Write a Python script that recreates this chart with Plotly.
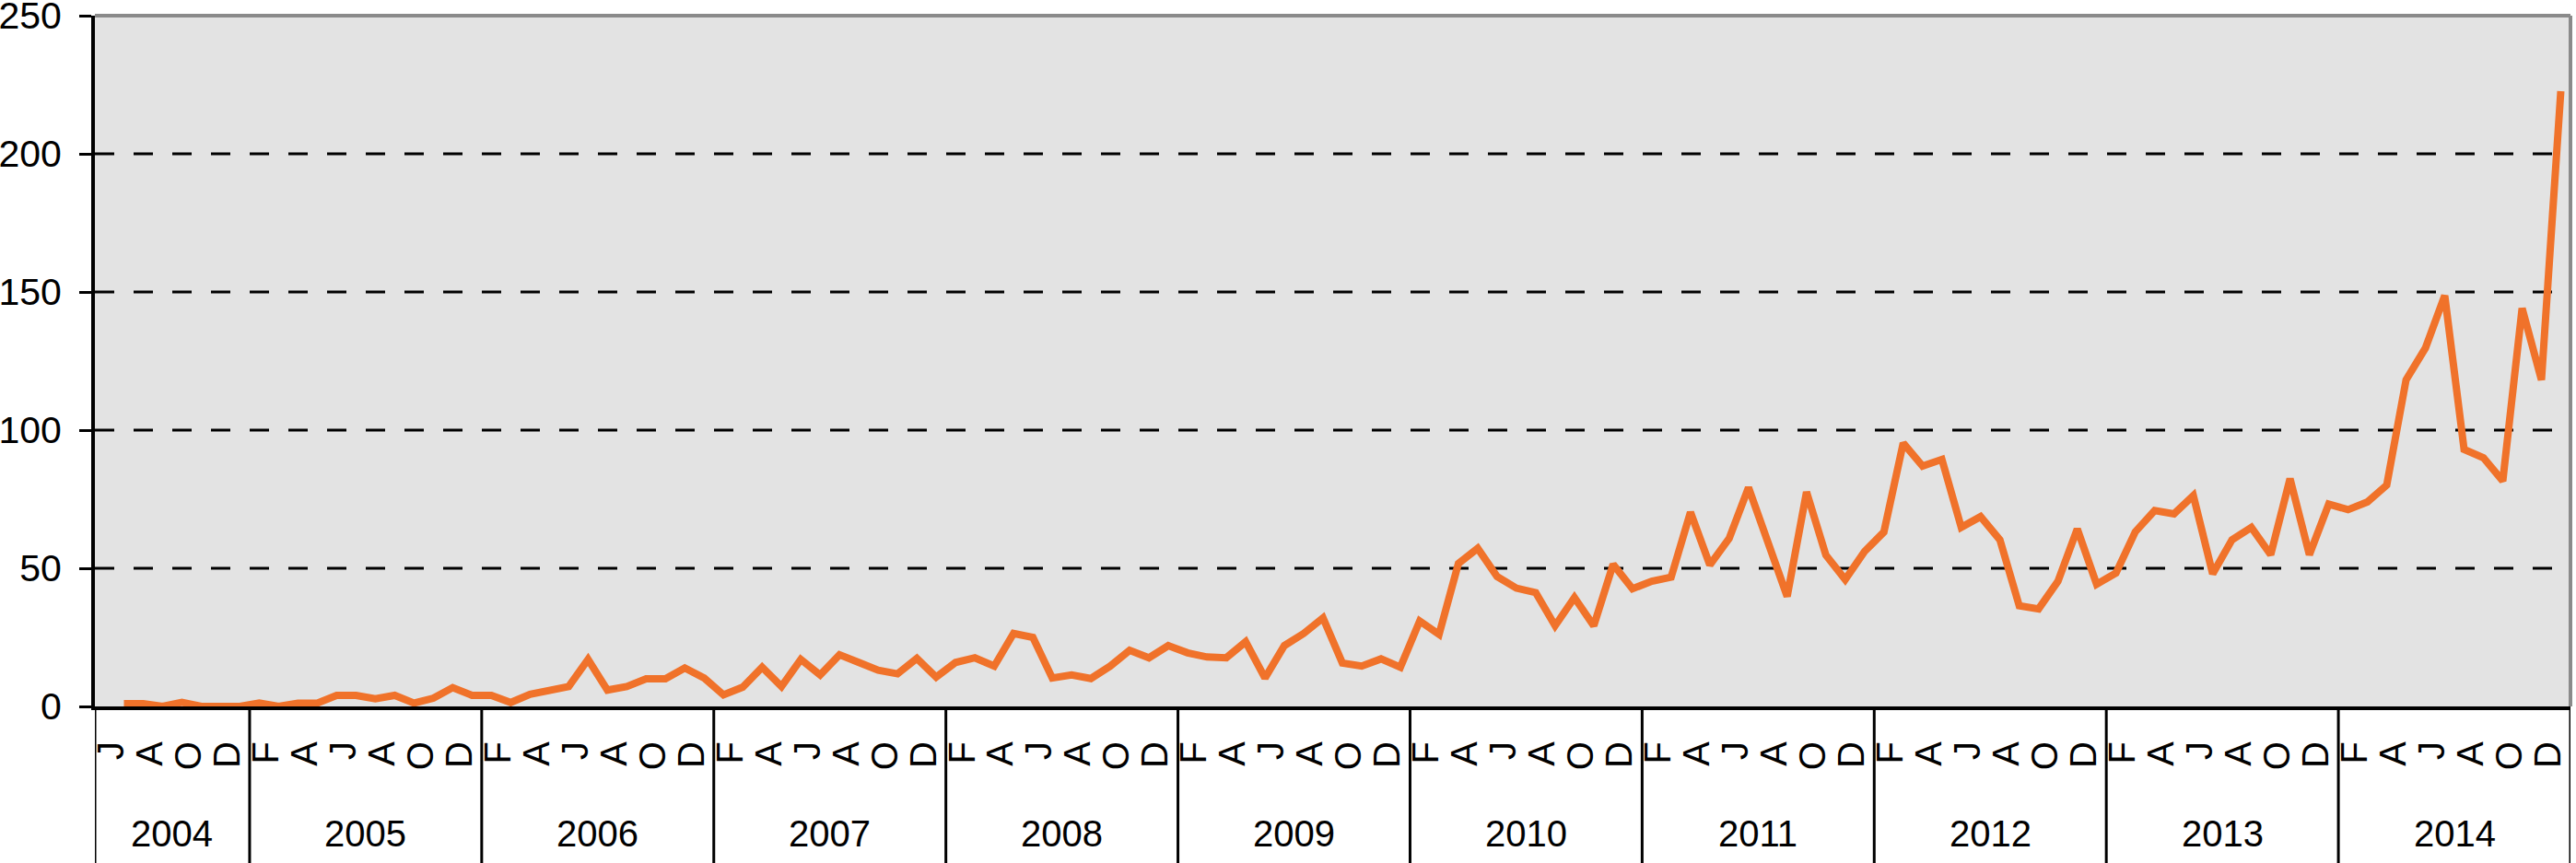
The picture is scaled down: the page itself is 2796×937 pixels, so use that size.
import plotly.graph_objects as go

# ---------------- data ----------------
years = [2004, 2005, 2006, 2007, 2008, 2009, 2010, 2011, 2012, 2013, 2014]
first_month_2004 = 5  # series starts in May 2004 (May is blank)
month_letters = ["J", "F", "M", "A", "M", "J", "J", "A", "S", "O", "N", "D"]
labelled_months = [2, 4, 6, 8, 10, 12]  # every second month gets a letter

values_2004 = [None, 1, 1, 0, 1.5, 0, 0, 0]
values_2005 = [1.2, 0, 1.2, 1.2, 4, 4, 2.8, 4, 1.2, 3, 6.8, 4]
values_2006 = [4, 1.4, 4.4, 5.9, 7.2, 17, 5.9, 7.2, 10, 10, 13.9, 10.3]
values_2007 = [4.2, 7, 14.2, 7.2, 17, 11.4, 18.7, 15.9, 13.1, 11.8, 17.4, 10.6]
values_2008 = [15.9, 17.6, 14.6, 26.4, 25, 10.3, 11.4, 10.1, 14.6, 20.3, 17.6, 22]
values_2009 = [19.4, 17.9, 17.6, 23.4, 10.3, 22, 26.4, 32, 15.7, 14.6, 17.2, 14.2]
values_2010 = [30.9, 26.1, 51.7, 57.2, 47, 42.8, 41.2, 29.2, 39.4, 29.2, 51.4, 42.6]
values_2011 = [45.3, 46.8, 70.3, 51.2, 60.8, 79.2, 59.2, 39.8, 77.6, 54.8, 45.9, 56.1]
values_2012 = [63.1, 95.3, 87, 89.4, 64.8, 68.7, 60.3, 36.4, 35.3, 45.3, 64.2, 44.2]
values_2013 = [48.3, 63.2, 70.9, 69.7, 76.3, 48, 60.3, 64.8, 54.9, 82.4, 54.9, 73.2]
values_2014 = [71.2, 74, 80.1, 118.2, 129.7, 148.7, 93, 90, 81.6, 144.1, 118.2, 222.7]

y_ticks = [0, 50, 100, 150, 200, 250]

# ---------------- build series ----------------
yearly_values = [values_2004, values_2005, values_2006, values_2007, values_2008,
                 values_2009, values_2010, values_2011, values_2012, values_2013,
                 values_2014]

month_numbers = []
year_of_point = []
values = []
for yr, vals in zip(years, yearly_values):
    start = first_month_2004 if yr == 2004 else 1
    for i, v in enumerate(vals):
        month_numbers.append(start + i)
        year_of_point.append(yr)
        values.append(v)

x = list(range(len(values)))

tickvals = []
ticktext = []
for k, m in enumerate(month_numbers):
    if m in labelled_months:
        tickvals.append(k - 0.65)
        ticktext.append(month_letters[m - 1])

# year segments
year_edges = []
year_centers = []
for yr in years:
    ks = [k for k, y in enumerate(year_of_point) if y == yr]
    lo, hi = ks[0] - 0.5, ks[-1] + 0.5
    year_edges.append(lo)
    year_centers.append((lo + hi) / 2)
year_edges.append(len(values) - 0.5)

ORANGE = "#F0722A"
FONT = "Liberation Sans, Arial, Helvetica, sans-serif"
FS = 40

fig = go.Figure()
fig.add_trace(go.Scatter(
    x=x, y=values, mode="lines",
    line=dict(color=ORANGE, width=8),
    connectgaps=False, hoverinfo="skip", showlegend=False,
))

shapes = []
# dashed horizontal gridlines
for v in y_ticks:
    if 0 < v < 250:
        shapes.append(dict(type="line", xref="paper", yref="y", x0=0, x1=1, y0=v, y1=v,
                           line=dict(color="black", width=3, dash="21px,21px"),
                           layer="below"))
# year divider lines below the axis
for e in year_edges:
    shapes.append(dict(type="line", xref="x", yref="paper", x0=e, x1=e,
                       y0=0, y1=-0.3, line=dict(color="black", width=3),
                       layer="above"))
# gray top and right borders of the plot area
shapes.append(dict(type="line", xref="paper", yref="paper", x0=0, x1=1, y0=1, y1=1,
                   line=dict(color="#8A8A8A", width=4), layer="above"))
shapes.append(dict(type="line", xref="paper", yref="paper", x0=1, x1=1, y0=0, y1=1,
                   line=dict(color="#8A8A8A", width=4), layer="above"))

annotations = []
for yr, c in zip(years, year_centers):
    annotations.append(dict(text=str(yr), x=c, xref="x", y=-0.184, yref="paper",
                            showarrow=False, xanchor="center", yanchor="middle",
                            font=dict(family=FONT, size=FS, color="black")))

fig.update_layout(
    width=2796, height=937,
    margin=dict(l=103, r=6, t=17, b=170, pad=0),
    paper_bgcolor="white",
    plot_bgcolor="#E3E3E3",
    showlegend=False,
    shapes=shapes,
    annotations=annotations,
    font=dict(family=FONT, size=FS, color="black"),
    xaxis=dict(
        range=[-0.5, len(values) - 0.5],
        tickmode="array", tickvals=tickvals, ticktext=ticktext,
        tickangle=-90, ticks="", showgrid=False, zeroline=False,
        showline=True, linecolor="black", linewidth=4,
        tickfont=dict(family=FONT, size=FS, color="black"),
        ticklabelstandoff=18,
        automargin=False, fixedrange=True,
    ),
    yaxis=dict(
        range=[0, 250],
        tickmode="array", tickvals=y_ticks,
        ticks="outside", ticklen=13, tickwidth=3, tickcolor="black",
        showline=True, linecolor="black", linewidth=4,
        showgrid=False, zeroline=False,
        tickfont=dict(family=FONT, size=41, color="black"),
        ticklabelstandoff=11, ticklabeloverflow="allow",
        automargin=False, fixedrange=True,
    ),
)

fig.write_html("out.html", config={"displayModeBar": False},
               post_script="document.body.style.margin='0';document.body.style.overflow='hidden';")
